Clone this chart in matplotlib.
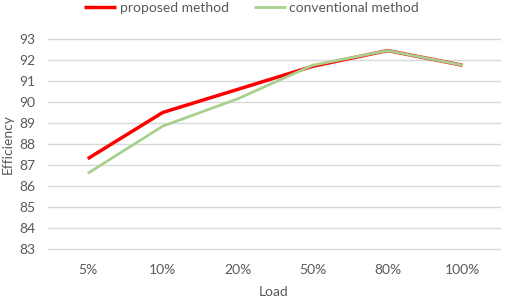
import matplotlib.pyplot as plt

loads = ['5%', '10%', '20%', '50%', '80%', '100%']
proposed = [87.3, 89.5, 90.6, 91.7, 92.45, 91.75]
conventional = [86.6, 88.85, 90.15, 91.75, 92.45, 91.75]
y_ticks = [83, 84, 85, 86, 87, 88, 89, 90, 91, 92, 93]

plt.rcParams['font.family'] = ['Lato', 'DejaVu Sans']
text_color = '#595959'

fig = plt.figure(figsize=(5.05, 3.0), dpi=100)
ax = fig.add_axes([48 / 505, 1 - 249 / 300, 452 / 505, 210 / 300])

x = list(range(len(loads)))
ax.plot(x, proposed, color='#ff0000', linewidth=2.5, label='proposed method', solid_capstyle='butt')
ax.plot(x, conventional, color='#a9d18e', linewidth=2.0, label='conventional method', solid_capstyle='butt')

ax.set_xlim(-0.53, 5.5)
ax.set_ylim(83, 93)
ax.set_yticks(y_ticks)
ax.set_xticks(x)
ax.set_xticklabels(loads)
ax.grid(axis='y', color='#d9d9d9', linewidth=1.0, clip_on=False)
ax.set_axisbelow(True)
for s in ax.spines.values():
    s.set_visible(False)
ax.tick_params(axis='both', length=0, labelsize=10, colors=text_color)
ax.tick_params(axis='y', pad=9)
ax.tick_params(axis='x', pad=11)

ax.set_xlabel('Load', fontsize=10, color=text_color, labelpad=7)
ax.set_ylabel('Efficiency', fontsize=10, color=text_color, labelpad=4)

fig.legend(loc='upper center', bbox_to_anchor=(0.498, 1.035), ncol=2, frameon=False,
           fontsize=10, labelcolor=text_color, handlelength=2.3, handletextpad=0.25,
           columnspacing=1.8)

fig.savefig('out.png', dpi=100)
